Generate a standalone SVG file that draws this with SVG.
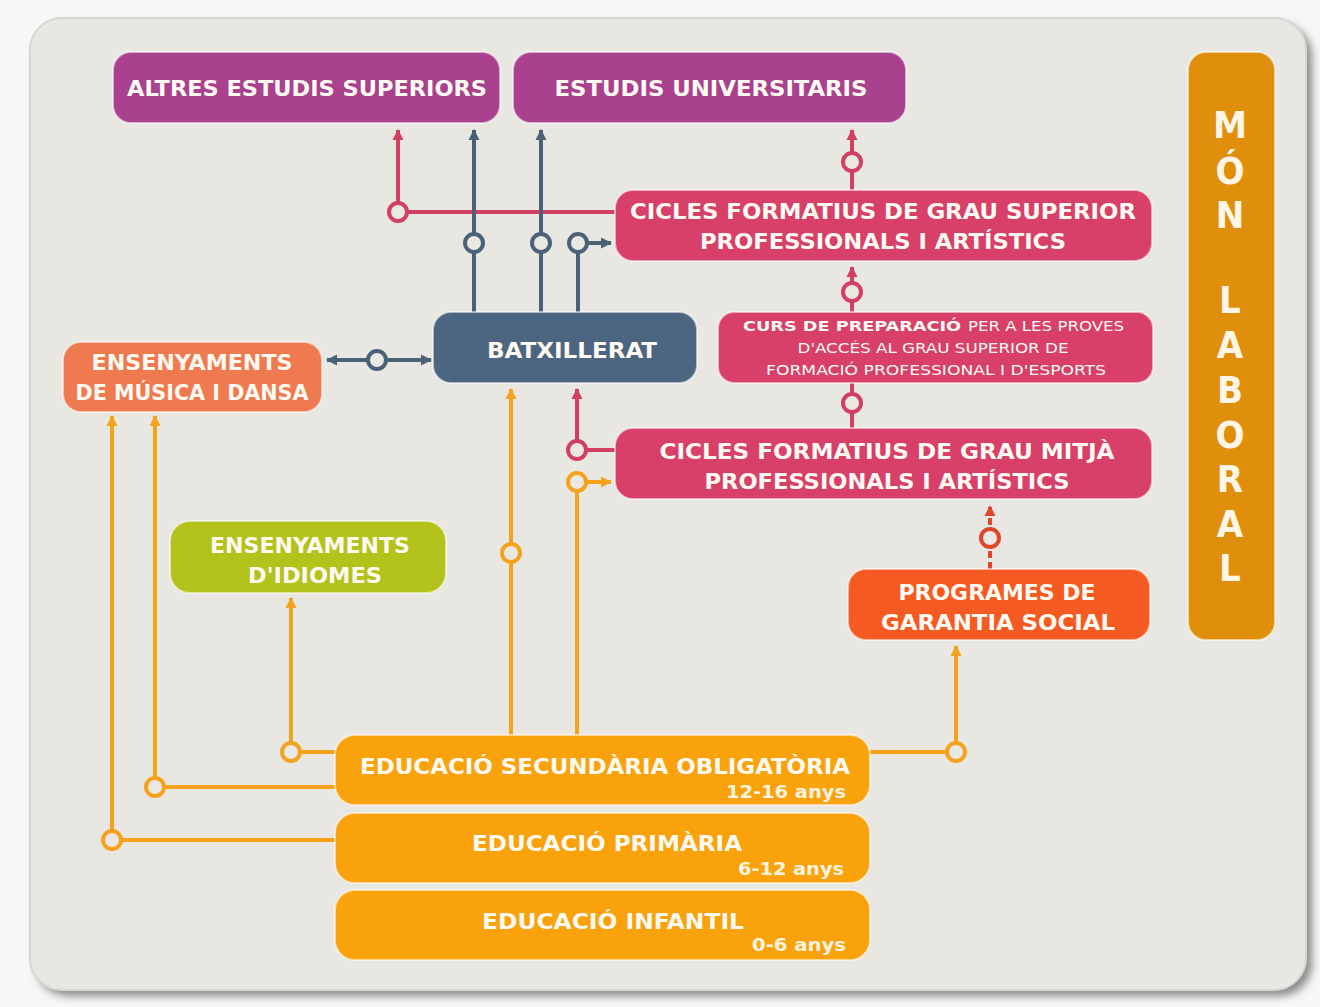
<svg xmlns="http://www.w3.org/2000/svg" width="1320" height="1007" viewBox="0 0 1320 1007">
<style>
.lbl{font-family:"DejaVu Sans Condensed","DejaVu Sans","Liberation Sans",sans-serif;font-weight:bold;font-size:21px;fill:#fffaf2;text-anchor:middle}
.sm{font-family:"DejaVu Sans Condensed","DejaVu Sans","Liberation Sans",sans-serif;font-size:14px;fill:#fffaf2;text-anchor:middle}
.age{font-family:"DejaVu Sans Condensed","DejaVu Sans","Liberation Sans",sans-serif;font-weight:bold;font-size:18px;fill:#fff4e0;text-anchor:end}
.mon{font-family:"DejaVu Sans Condensed","DejaVu Sans",sans-serif;font-weight:bold;font-size:38px;fill:#fff6e8;text-anchor:middle}
.box{stroke:#ffffff;stroke-opacity:0.55;stroke-width:2}
.ln{fill:none;stroke-width:4}
.pk{stroke:#d23f62}
.sl{stroke:#4b6178}
.or{stroke:#f5a21c}
.ro{stroke:#e0462a;stroke-dasharray:7 4}
.c{fill:#e9e8e3;stroke-width:4}
</style>
<defs>
<marker id="apk" markerWidth="13" markerHeight="13" refX="10" refY="6.5" orient="auto" markerUnits="userSpaceOnUse"><path d="M0,1 L11,6.5 L0,12 z" fill="#d23f62"/></marker>
<marker id="asl" markerWidth="13" markerHeight="13" refX="10" refY="6.5" orient="auto" markerUnits="userSpaceOnUse"><path d="M0,1 L11,6.5 L0,12 z" fill="#4b6178"/></marker>
<marker id="aor" markerWidth="13" markerHeight="13" refX="10" refY="6.5" orient="auto" markerUnits="userSpaceOnUse"><path d="M0,1 L11,6.5 L0,12 z" fill="#f5a21c"/></marker>
<marker id="aro" markerWidth="13" markerHeight="13" refX="10" refY="6.5" orient="auto" markerUnits="userSpaceOnUse"><path d="M0,1 L11,6.5 L0,12 z" fill="#e0462a"/></marker>
<filter id="sh" x="-5%" y="-5%" width="110%" height="110%"><feGaussianBlur stdDeviation="4"/></filter>
</defs>
<rect width="1320" height="1007" fill="#f7f7f7"/>
<rect x="36" y="24" width="1276" height="972" rx="32" fill="#8a8a8a" filter="url(#sh)"/>
<rect x="30" y="18" width="1276" height="972" rx="32" fill="#e8e7e2" stroke="#d6d6d2" stroke-width="2"/>

<g id="connectors">
<path class="ln pk" d="M615,212 H398 V130" marker-end="url(#apk)"/>
<path class="ln pk" d="M852,190 V130" marker-end="url(#apk)"/>
<path class="ln pk" d="M852,312 V267" marker-end="url(#apk)"/>
<path class="ln pk" d="M852,428 V382"/>
<path class="ln pk" d="M615,450 H577 V389" marker-end="url(#apk)"/>
<path class="ln ro" d="M990,569 V506" marker-end="url(#aro)"/>
<path class="ln sl" d="M474,312 V130" marker-end="url(#asl)"/>
<path class="ln sl" d="M541,312 V130" marker-end="url(#asl)"/>
<path class="ln sl" d="M578,312 V243 H611" marker-end="url(#asl)"/>
<path class="ln sl" d="M370,360 H327" marker-end="url(#asl)"/>
<path class="ln sl" d="M384,360 H431" marker-end="url(#asl)"/>
<path class="ln or" d="M511,735 V389" marker-end="url(#aor)"/>
<path class="ln or" d="M577,735 V482 H611" marker-end="url(#aor)"/>
<path class="ln or" d="M335,752 H291 V598" marker-end="url(#aor)"/>
<path class="ln or" d="M335,787 H155 V416" marker-end="url(#aor)"/>
<path class="ln or" d="M335,840 H112 V416" marker-end="url(#aor)"/>
<path class="ln or" d="M870,752 H956 V646" marker-end="url(#aor)"/>
<circle class="c pk" cx="398" cy="212" r="9"/>
<circle class="c pk" cx="852" cy="162" r="9"/>
<circle class="c pk" cx="852" cy="292" r="9"/>
<circle class="c pk" cx="852" cy="403" r="9"/>
<circle class="c pk" cx="577" cy="450" r="9"/>
<circle class="c" stroke="#e0462a" cx="990" cy="538" r="9"/>
<circle class="c sl" cx="474" cy="243" r="9"/>
<circle class="c sl" cx="541" cy="243" r="9"/>
<circle class="c sl" cx="578" cy="243" r="9"/>
<circle class="c sl" cx="377" cy="360" r="9"/>
<circle class="c or" cx="511" cy="553" r="9"/>
<circle class="c or" cx="577" cy="482" r="9"/>
<circle class="c or" cx="291" cy="752" r="9"/>
<circle class="c or" cx="155" cy="787" r="9"/>
<circle class="c or" cx="112" cy="840" r="9"/>
<circle class="c or" cx="956" cy="752" r="9"/>
</g>

<g id="altres">
<rect class="box" x="113" y="52" width="387" height="71" rx="18" fill="#a9418f"/>
<text class="lbl" x="307" y="96" textLength="360" lengthAdjust="spacingAndGlyphs">ALTRES ESTUDIS SUPERIORS</text>
</g>
<g id="universitaris">
<rect class="box" x="513" y="52" width="393" height="71" rx="18" fill="#a9418f"/>
<text class="lbl" x="711" y="96" textLength="313" lengthAdjust="spacingAndGlyphs">ESTUDIS UNIVERSITARIS</text>
</g>
<g id="mon-laboral">
<rect class="box" x="1188" y="52" width="87" height="588" rx="18" fill="#e08f0c"/>
<text class="mon"><tspan x="1230" y="138">M</tspan><tspan x="1230" y="184">Ó</tspan><tspan x="1230" y="228">N</tspan><tspan x="1230" y="313">L</tspan><tspan x="1230" y="358">A</tspan><tspan x="1230" y="403">B</tspan><tspan x="1230" y="448">O</tspan><tspan x="1230" y="492">R</tspan><tspan x="1230" y="537">A</tspan><tspan x="1230" y="581">L</tspan></text>
</g>
<g id="cfgs">
<rect class="box" x="615" y="190" width="537" height="71" rx="18" fill="#d8406a"/>
<text class="lbl" x="883" y="219" textLength="506" lengthAdjust="spacingAndGlyphs">CICLES FORMATIUS DE GRAU SUPERIOR</text>
<text class="lbl" x="883" y="249" textLength="366" lengthAdjust="spacingAndGlyphs">PROFESSIONALS I ARTÍSTICS</text>
</g>
<g id="curs">
<rect class="box" x="718" y="312" width="435" height="71" rx="16" fill="#d8406a"/>
<text class="sm" x="852" y="331" font-weight="bold" textLength="218" lengthAdjust="spacingAndGlyphs">CURS DE PREPARACIÓ</text>
<text class="sm" x="1046" y="331" textLength="156" lengthAdjust="spacingAndGlyphs">PER A LES PROVES</text>
<text class="sm" x="933" y="353" textLength="271" lengthAdjust="spacingAndGlyphs">D'ACCÉS AL GRAU SUPERIOR DE</text>
<text class="sm" x="936" y="375" textLength="340" lengthAdjust="spacingAndGlyphs">FORMACIÓ PROFESSIONAL I D'ESPORTS</text>
</g>
<g id="batxillerat">
<rect class="box" x="433" y="312" width="264" height="71" rx="18" fill="#4c6580"/>
<text class="lbl" x="572" y="358" textLength="170" lengthAdjust="spacingAndGlyphs">BATXILLERAT</text>
</g>
<g id="musica">
<rect class="box" x="63" y="342" width="259" height="70" rx="18" fill="#f07a50"/>
<text class="lbl" x="192" y="370" textLength="201" lengthAdjust="spacingAndGlyphs">ENSENYAMENTS</text>
<text class="lbl" x="192" y="400" textLength="233" lengthAdjust="spacingAndGlyphs">DE MÚSICA I DANSA</text>
</g>
<g id="cfgm">
<rect class="box" x="615" y="428" width="537" height="71" rx="18" fill="#d8406a"/>
<text class="lbl" x="887" y="459" textLength="455" lengthAdjust="spacingAndGlyphs">CICLES FORMATIUS DE GRAU MITJÀ</text>
<text class="lbl" x="887" y="489" textLength="365" lengthAdjust="spacingAndGlyphs">PROFESSIONALS I ARTÍSTICS</text>
</g>
<g id="idiomes">
<rect class="box" x="170" y="521" width="276" height="72" rx="20" fill="#b4c21c"/>
<text class="lbl" x="310" y="553" textLength="200" lengthAdjust="spacingAndGlyphs">ENSENYAMENTS</text>
<text class="lbl" x="315" y="583" textLength="134" lengthAdjust="spacingAndGlyphs">D'IDIOMES</text>
</g>
<g id="garantia">
<rect class="box" x="848" y="569" width="302" height="71" rx="18" fill="#f55a22"/>
<text class="lbl" x="997" y="600" textLength="197" lengthAdjust="spacingAndGlyphs">PROGRAMES DE</text>
<text class="lbl" x="998" y="630" textLength="234" lengthAdjust="spacingAndGlyphs">GARANTIA SOCIAL</text>
</g>
<g id="eso">
<rect class="box" x="335" y="735" width="535" height="70" rx="20" fill="#f9a20c"/>
<text class="lbl" x="605" y="774" textLength="490" lengthAdjust="spacingAndGlyphs">EDUCACIÓ SECUNDÀRIA OBLIGATÒRIA</text>
<text class="age" x="846" y="798" textLength="120" lengthAdjust="spacingAndGlyphs">12-16 anys</text>
</g>
<g id="primaria">
<rect class="box" x="335" y="813" width="535" height="70" rx="20" fill="#f9a20c"/>
<text class="lbl" x="607" y="851" textLength="270" lengthAdjust="spacingAndGlyphs">EDUCACIÓ PRIMÀRIA</text>
<text class="age" x="844" y="875" textLength="106" lengthAdjust="spacingAndGlyphs">6-12 anys</text>
</g>
<g id="infantil">
<rect class="box" x="335" y="890" width="535" height="70" rx="20" fill="#f9a20c"/>
<text class="lbl" x="613" y="929" textLength="262" lengthAdjust="spacingAndGlyphs">EDUCACIÓ INFANTIL</text>
<text class="age" x="846" y="951" textLength="94" lengthAdjust="spacingAndGlyphs">0-6 anys</text>
</g>
</svg>
